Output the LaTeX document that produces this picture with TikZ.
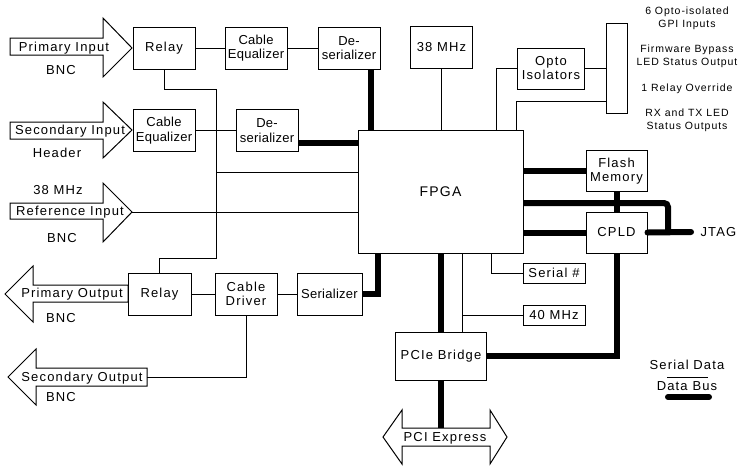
\documentclass[tikz,border=0pt]{standalone}
\usepackage{fontspec}
\setmainfont{Liberation Sans}[LetterSpace=9]
\newfontfamily\tightfont{Liberation Sans}[LetterSpace=2]
\begin{document}
\begin{tikzpicture}[x=1pt,y=-1pt,line width=1pt,
    box/.style={draw,fill=white,minimum width=62pt,minimum height=42pt,inner sep=1pt,align=center,font=\fontsize{13}{14}\selectfont},
    tight/.style={font=\tightfont\fontsize{13}{14.5}\selectfont},
    small/.style={box,minimum height=20pt},
    bus/.style={line width=6pt},
    bigarrow/.style={draw,fill=white,line join=miter},
    lbl/.style={font=\fontsize{13}{14}\selectfont,inner sep=0pt,text height=9.3pt,text depth=0pt},
    note/.style={font=\fontsize{10.5}{13}\selectfont,align=center,inner sep=0pt}]
    \useasboundingbox (0,0) rectangle (743,467);
    \draw[bigarrow] (10,38) -- (103,38) -- (103,18) -- (132,48) -- (103,77) -- (103,55) -- (10,55) -- cycle;
    \draw[bigarrow] (10,122) -- (103,122) -- (103,102) -- (132,130) -- (103,158) -- (103,139) -- (10,139) -- cycle;
    \draw[bigarrow] (10,203) -- (103,203) -- (103,183) -- (132,212) -- (103,242) -- (103,219) -- (10,219) -- cycle;
    \draw[bigarrow] (128,285) -- (33,285) -- (33,266) -- (5,294) -- (33,322) -- (33,302) -- (128,302) -- cycle;
    \draw[bigarrow] (147,368) -- (36,368) -- (36,349) -- (8,377) -- (36,405) -- (36,386) -- (147,386) -- cycle;
    \draw[bigarrow] (402,428) -- (402,410) -- (383,437) -- (402,464) -- (402,446) -- (490,446) -- (490,464) -- (507,437) -- (490,410) -- (490,428) -- cycle;
    \node[lbl] at (64,47) {Primary Input};
    \node[lbl] at (61,70) {BNC};
    \node[lbl] at (70,130) {Secondary Input};
    \node[lbl] at (57,153) {Header};
    \node[lbl] at (58,190) {38 MHz};
    \node[lbl] at (70,211) {Reference Input};
    \node[lbl] at (62,238) {BNC};
    \node[lbl] at (72,293) {Primary Output};
    \node[lbl] at (61,318) {BNC};
    \node[lbl] at (82,377) {Secondary Output};
    \node[lbl] at (61,397) {BNC};
    \node[lbl] at (445,437) {PCI Express};

    \node[box] (relayin) at (164,48) {Relay};
    \node[box,tight] (eqa) at (256,48) {Cable\\Equalizer};
    \node[box,tight] (desa) at (349,48) {De-\\serializer};
    \node[box] (osc) at (441.5,47.5) {38 MHz};
    \node[box,minimum width=67pt,minimum height=41pt] (opto) at (551,68.5) {Opto\\Isolators};
    \node[box,minimum width=21pt,minimum height=90pt] (gpi) at (616.5,68) {};
    \node[box,tight] (eqb) at (164,130.5) {Cable\\Equalizer};
    \node[box,tight] (desb) at (267,130.5) {De-\\serializer};
    \node[box,minimum width=165pt,minimum height=123pt,font=\fontsize{14}{16}\selectfont] (fpga) at (440.5,191.5) {FPGA};
    \node[box,minimum width=61pt,minimum height=41pt] (flash) at (616.5,171) {Flash\\Memory};
    \node[box,minimum width=61pt,minimum height=41pt] (cpld) at (616.5,232.5) {CPLD};
    \node[box,minimum width=63pt] (relayout) at (159.5,294) {Relay};
    \node[box] (driver) at (246,294) {Cable\\Driver};
    \node[box,tight,minimum width=65pt] (ser) at (329.5,294) {Serializer};
    \node[small] (serialno) at (554,273) {Serial \#};
    \node[small] (mhz40) at (554,315) {40 MHz};
    \node[box,minimum width=91pt,minimum height=48pt] (pcie) at (441,356) {PCIe Bridge};
    \node[lbl,anchor=west] (jtag) at (700,232) {JTAG};

    \node[note] at (687,18.5) {6 Opto-isolated\\GPI Inputs};
    \node[note] at (687,56.5) {Firmware Bypass\\LED Status Output};
    \node[note] at (687,89) {1 Relay Override};
    \node[note] at (687,120.5) {RX and TX LED\\Status Outputs};

    \coordinate (tap) at (216,172);
    \coordinate (refin) at (132,212);
    \coordinate (secout) at (147,377);
    \coordinate (pciex) at (441,428);

    \draw (relayin.east) -- (eqa.west);
    \draw (eqa.east) -- (desa.west);
    \draw (relayin.south) |- (216,89) -- (216,258) -| (relayout.north);
    \draw (tap) -- (tap -| fpga.west);
    \draw (eqb.east) -- (desb.west);
    \draw (refin) -- (refin -| fpga.west);
    \draw (osc.south) -- (osc.south |- fpga.north);
    \draw ([xshift=-27pt]fpga.north east) |- (opto.west);
    \draw (opto.east) -- (opto.east -| gpi.west);
    \draw ([xshift=-7pt]fpga.north east) |- ([yshift=-33pt]gpi.west);
    \draw (relayout.east) -- (driver.west);
    \draw (driver.east) -- (ser.west);
    \draw (driver.south) |- (secout);
    \draw ([xshift=-32pt]fpga.south east) |- (serialno.west);
    \draw ([xshift=21pt]pcie.north) -- ([xshift=21pt]pcie.north |- fpga.south);
    \draw ([xshift=21pt]pcie.north |- mhz40.west) -- (mhz40.west);

    \draw[bus] ([xshift=-10pt]desa.south east) -- ([xshift=-10pt]desa.south east |- fpga.north);
    \draw[bus] ([yshift=9pt]desb.south east) -- ([yshift=9pt]desb.south east -| fpga.west);
    \draw[bus] (ser.east) -| ([xshift=20pt]fpga.south west);
    \draw[bus] (flash.west -| fpga.east) -- (flash.west);
    \draw[bus] (cpld.west -| fpga.east) -- (cpld.west);
    \draw[bus] (flash.south) -- (cpld.north);
    \draw[bus,line cap=round] (cpld.east) -- ([xshift=-9pt]jtag.west);
    \draw[bus,rounded corners=4pt] (fpga.east |- 0,203) -| (cpld.east -| 668,0);
    \draw[bus] (cpld.south) |- (pcie.east);
    \draw[bus] (pcie.north) -- (pcie.north |- fpga.south);
    \draw[bus] (pcie.south) -- (pcie.south |- pciex);

    \node[lbl] (sdata) at (687,365) {Serial Data};
    \node[lbl] (dbus) at (687,386) {Data Bus};
    \draw (667,377) -- (708,377);
    \draw[bus,line cap=round] (668,397) -- (709,397);
\end{tikzpicture}
\end{document}
